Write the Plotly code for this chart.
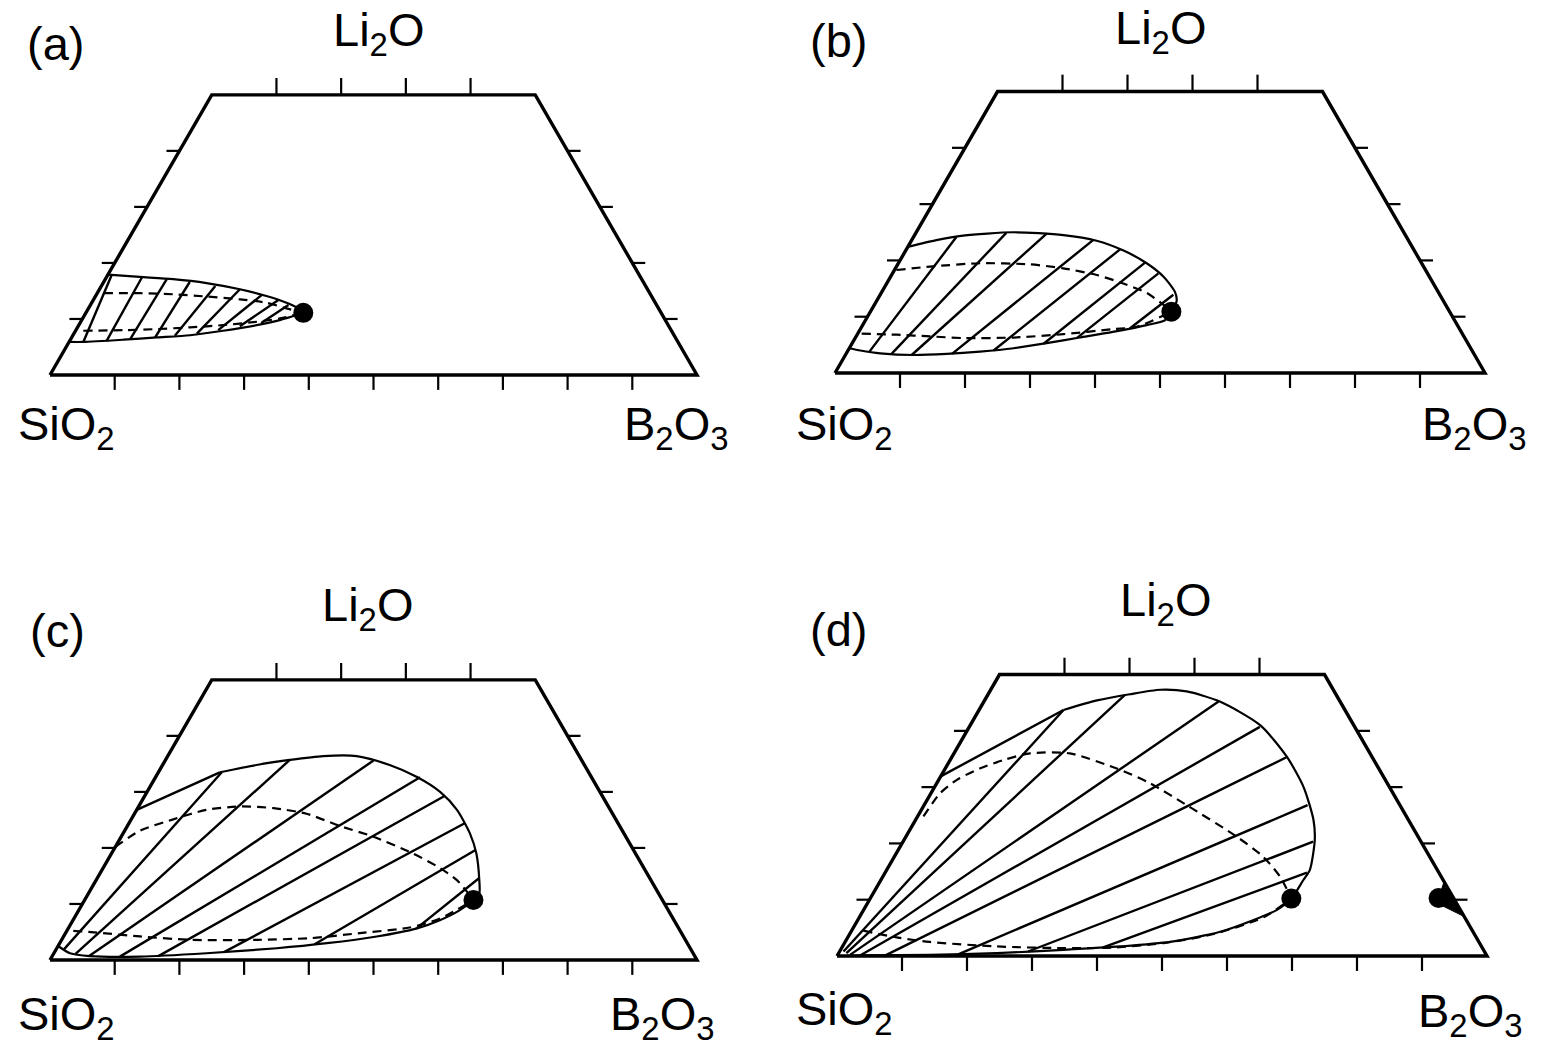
import numpy as np
import plotly.graph_objects as go

# ---------------- data: compositions in mol % (B2O3 = b, Li2O = l) ----------------
# Panel (a)
A_BIN_B = [0, 5.1, 10.5, 16.0, 21.7, 26.4, 30.1, 32.4, 33.6, 32.8, 30.6, 27.5, 22.8, 18.1, 13.2, 8.2, 2.2, 0]
A_BIN_L = [17.9, 17.5, 17.1, 16.4, 15.3, 14.1, 12.9, 11.9, 11.1, 10.7, 9.8, 8.9, 7.9, 7.1, 6.7, 6.3, 5.9, 5.9]
A_SPT_B = [1.0, 6.6, 11.9, 17.2, 22.6, 27.0, 30.6, 33.6]
A_SPT_L = [14.6, 14.6, 14.4, 14.0, 13.5, 12.9, 11.9, 11.1]
A_SPB_B = [1.2, 7.3, 12.4, 17.4, 22.3, 27.2, 30.5, 33.6]
A_SPB_L = [7.9, 8.0, 8.2, 8.5, 8.9, 9.5, 10.1, 11.1]
A_TIE_B1 = [2.2, 5.7, 9.2, 12.9, 15.8, 19.0, 22.0, 25.0, 28.0]
A_TIE_L1 = [5.9, 6.1, 6.4, 6.7, 7.0, 7.4, 8.0, 8.7, 9.3]
A_TIE_B2 = [0.6, 5.5, 9.5, 13.3, 17.6, 21.7, 25.6, 28.6, 30.6]
A_TIE_L2 = [17.9, 17.4, 17.1, 16.6, 15.9, 15.3, 14.3, 13.4, 12.5]
A_CRIT = ([33.6], [11.1])

# Panel (b)
B_BIN_B = [0, 3.8, 7.5, 14.9, 22.9, 28.5, 33.4, 38.2, 42.0, 45.1, 46.2, 46.3, 46.1, 43.7, 39.1,
           34.5, 29.9, 25.3, 20.4, 15.5, 10.5, 5.2, 1.9, 0]
B_BIN_L = [22.4, 23.6, 24.4, 25.0, 24.5, 23.5, 21.8, 19.5, 17.1, 14.4, 12.7, 10.9, 9.4, 8.5, 7.3,
           6.3, 5.3, 4.4, 3.8, 3.4, 3.2, 3.5, 4.0, 4.4]
B_SPT_B = [0.3, 5.2, 12.6, 20.3, 25.8, 31.6, 36.4, 40.9, 44.5, 46.3]
B_SPT_L = [18.3, 18.9, 19.5, 19.3, 18.6, 17.4, 15.9, 14.2, 12.1, 10.9]
B_SPB_B = [0.6, 6.1, 11.4, 16.7, 24.3, 31.7, 38.9, 42.3, 46.3]
B_SPB_L = [7.0, 6.8, 6.5, 6.2, 6.3, 6.9, 7.8, 8.2, 10.9]
B_TIE_B1 = [3.4, 7.0, 10.2, 16.3, 22.4, 29.5, 34.1, 41.4]
B_TIE_L1 = [3.8, 3.4, 3.2, 3.4, 4.0, 5.2, 6.2, 7.9]
B_TIE_B2 = [6.6, 13.9, 20.2, 27.9, 32.9, 37.9, 40.9, 45.1]
B_TIE_L2 = [24.2, 24.9, 24.8, 23.6, 22.0, 19.6, 17.7, 13.9]
B_CRIT = ([46.3], [10.9])

# Panel (c)
C_BIN_B = [9.5, 14.5, 19.2, 24.0, 29.2, 35.1, 40.3, 45.3, 49.5, 53.6, 56.4, 59.2, 60.4, 60.1, 58.9,
           56.7, 53.8, 48.4, 41.3, 34.0, 23.6, 13.6, 5.8, 2.5, 0]
C_BIN_L = [33.5, 34.8, 35.7, 36.4, 36.4, 34.8, 32.7, 30.0, 26.8, 22.6, 19.0, 14.3, 11.9, 10.7, 8.9,
           7.1, 5.6, 4.2, 3.0, 2.1, 1.2, 0.6, 0.7, 1.2, 2.5]
C_SPT_B = [0, 2.4, 6.5, 10.8, 15.7, 21.0, 26.6, 32.9, 39.0, 46.6, 52.1, 55.7, 58.7, 60.1]
C_SPT_L = [20.2, 23.1, 25.1, 26.8, 27.4, 27.1, 26.1, 23.9, 22.0, 19.0, 16.4, 14.3, 11.9, 10.7]
C_SPB_B = [1.0, 4.8, 11.8, 19.9, 30.2, 38.3, 45.5, 52.7, 56.6, 60.1]
C_SPB_L = [5.2, 4.9, 4.2, 3.6, 3.6, 3.9, 4.8, 5.8, 7.4, 10.7]
C_TIE_B1 = [0, 1.2, 3.4, 5.7, 10.5, 16.4, 26.2, 39.5, 53.8]
C_TIE_L1 = [26.8, 1.9, 1.1, 0.7, 0.6, 0.7, 1.4, 2.8, 5.6]
C_TIE_B2 = [9.5, 9.8, 19.2, 32.2, 40.9, 46.4, 51.9, 55.9, 59.0]
C_TIE_L2 = [33.5, 33.5, 35.7, 35.6, 32.6, 29.3, 24.4, 19.6, 14.6]
C_CRIT = ([60.1], [10.7])

# Panel (d)
D_BIN_B = [13.0, 17.3, 21.8, 26.1, 30.3, 36.3, 44.6, 51.5, 56.7, 61.2, 63.2, 65.1, 65.0, 64.8,
           63.6, 60.9, 56.8, 50.0, 42.7, 34.3, 24.3, 14.2, 4.0, 1.0]
D_BIN_L = [43.7, 45.4, 46.5, 47.3, 47.0, 45.2, 41.0, 35.4, 30.1, 24.2, 20.6, 15.3, 13.5, 10.2,
           8.2, 6.4, 4.3, 2.5, 1.7, 1.1, 0.5, 0.2, 0.1, 0.0]
D_SPT_B = [0.9, 1.4, 2.8, 5.3, 8.2, 11.7, 17.8, 26.4, 32.8, 40.4, 50.9, 56.8, 61.1, 64.8]
D_SPT_L = [24.8, 28.9, 31.3, 33.3, 34.8, 36.0, 36.0, 33.3, 30.7, 26.8, 21.2, 17.6, 14.1, 10.2]
D_SPB_B = [1.8, 7.5, 13.0, 23.7, 34.1, 41.7, 49.1, 56.0, 62.2, 64.8]
D_SPB_L = [4.5, 3.3, 2.5, 1.7, 1.4, 1.5, 2.3, 3.9, 6.9, 10.2]
D_TIE_B1 = [0, 0.6, 1.2, 1.9, 3.5, 7.4, 18.5, 29.0, 40.1]
D_TIE_L1 = [31.9, 0.8, 0.5, 0.2, 0.1, 0.1, 0.3, 0.8, 1.5]
D_TIE_B2 = [13.0, 13.0, 21.1, 36.1, 44.7, 51.5, 59.0, 63.1, 64.9]
D_TIE_L2 = [43.7, 43.7, 46.4, 45.2, 40.7, 35.3, 26.8, 20.3, 14.8]
D_CRIT = ([64.8, 87.4], [10.2, 10.3])
D_WEDGE_B = [86.8, 87.6, 93.0, 86.8]
D_WEDGE_L = [13.2, 9.4, 7.0, 13.2]

# frame and ticks (mol %)
FRAME_B = [0, 100, 50, 0, 0]
FRAME_L = [0, 0, 50, 50, 0]
BASE_TICKS = [10, 20, 30, 40, 50, 60, 70, 80, 90]
SIDE_TICKS = [10, 20, 30, 40]
TOP_TICKS = [10, 20, 30, 40]

PANEL_LETTERS = ["(a)", "(b)", "(c)", "(d)"]
APEX = "Li<sub>2</sub>O"
LEFT = "SiO<sub>2</sub>"
RIGHT = "B<sub>2</sub>O<sub>3</sub>"

PANELS = [
    dict(bin=(A_BIN_B, A_BIN_L), spt=(A_SPT_B, A_SPT_L), spb=(A_SPB_B, A_SPB_L),
         tie=(A_TIE_B1, A_TIE_L1, A_TIE_B2, A_TIE_L2), crit=A_CRIT, wedge=None),
    dict(bin=(B_BIN_B, B_BIN_L), spt=(B_SPT_B, B_SPT_L), spb=(B_SPB_B, B_SPB_L),
         tie=(B_TIE_B1, B_TIE_L1, B_TIE_B2, B_TIE_L2), crit=B_CRIT, wedge=None),
    dict(bin=(C_BIN_B, C_BIN_L), spt=(C_SPT_B, C_SPT_L), spb=(C_SPB_B, C_SPB_L),
         tie=(C_TIE_B1, C_TIE_L1, C_TIE_B2, C_TIE_L2), crit=C_CRIT, wedge=None),
    dict(bin=(D_BIN_B, D_BIN_L), spt=(D_SPT_B, D_SPT_L), spb=(D_SPB_B, D_SPB_L),
         tie=(D_TIE_B1, D_TIE_L1, D_TIE_B2, D_TIE_L2), crit=D_CRIT, wedge=(D_WEDGE_B, D_WEDGE_L)),
]

# ---------------- layout geometry (per panel axis ranges & domains) ----------------
LAYOUT = [
    dict(xr=[-0.07728, 1.12056], yr=[-0.22952, 0.57960], xd=[0, 0.5], yd=[0.5, 1.0],
         lab=[(0.008, 0.512), (0.507, 0.528), (0.025, -0.080), (0.969, -0.080)]),
    dict(xr=[-0.09231, 1.10000], yr=[-0.23154, 0.57385], xd=[0.5, 1.0], yd=[0.5, 1.0],
         lab=[(0.006, 0.512), (0.500, 0.526), (0.014, -0.083), (0.984, -0.083)]),
    dict(xr=[-0.07728, 1.12056], yr=[-0.13447, 0.67465], xd=[0, 0.5], yd=[0.0, 0.5],
         lab=[(0.011, 0.510), (0.490, 0.544), (0.025, -0.088), (0.946, -0.088)]),
    dict(xr=[-0.09538, 1.09692], yr=[-0.14000, 0.66538], xd=[0.5, 1.0], yd=[0.0, 0.5],
         lab=[(0.002, 0.502), (0.505, 0.543), (0.012, -0.086), (0.974, -0.089)]),
]

H = np.sqrt(3) / 2


def tern(b, l):
    b = np.asarray(b, float) / 100.0
    l = np.asarray(l, float) / 100.0
    return b + l / 2.0, l * H


FONT = "Liberation Sans, Arial, Helvetica, sans-serif"
fig = go.Figure()
annotations = []

for i, (p, g) in enumerate(zip(PANELS, LAYOUT)):
    xa = "x" if i == 0 else f"x{i+1}"
    ya = "y" if i == 0 else f"y{i+1}"
    common = dict(xaxis=xa, yaxis=ya, hoverinfo="skip", showlegend=False)

    # tie lines
    tx, ty = [], []
    for b1, l1, b2, l2 in zip(*p["tie"]):
        x, y = tern([b1, b2], [l1, l2])
        tx += list(x) + [None]
        ty += list(y) + [None]
    fig.add_trace(go.Scatter(x=tx, y=ty, mode="lines", line=dict(color="black", width=2.4), **common))

    # spinodal (dashed)
    for key in ("spt", "spb"):
        x, y = tern(*p[key])
        fig.add_trace(go.Scatter(x=x, y=y, mode="lines",
                                 line=dict(color="black", width=2.2, dash="9px,6px", shape="spline", smoothing=0.7),
                                 **common))

    # binodal
    x, y = tern(*p["bin"])
    fig.add_trace(go.Scatter(x=x, y=y, mode="lines",
                             line=dict(color="black", width=2.2, shape="spline", smoothing=0.7), **common))

    # wedge (small gap on B2O3-Li2O side)
    if p["wedge"] is not None:
        x, y = tern(*p["wedge"])
        fig.add_trace(go.Scatter(x=x, y=y, mode="lines", fill="toself", fillcolor="black",
                                 line=dict(color="black", width=1), **common))

    # frame
    x, y = tern(FRAME_B, FRAME_L)
    fig.add_trace(go.Scatter(x=x, y=y, mode="lines", line=dict(color="black", width=3.4), **common))

    # ticks
    kx, ky = [], []
    for t in BASE_TICKS:
        x0, y0 = tern([t], [0])
        kx += [x0[0], x0[0], None]; ky += [y0[0], y0[0] - 0.023, None]
    for t in SIDE_TICKS:
        x0, y0 = tern([0], [t])
        kx += [x0[0], x0[0] - 0.02, None]; ky += [y0[0], y0[0], None]
        x1, y1 = tern([100 - t], [t])
        kx += [x1[0], x1[0] + 0.02, None]; ky += [y1[0], y1[0], None]
    for t in TOP_TICKS:
        x0, y0 = tern([t], [50])
        kx += [x0[0], x0[0], None]; ky += [y0[0], y0[0] + 0.026, None]
    fig.add_trace(go.Scatter(x=kx, y=ky, mode="lines", line=dict(color="black", width=2.2), **common))

    # critical points
    x, y = tern(*p["crit"])
    fig.add_trace(go.Scatter(x=x, y=y, mode="markers", marker=dict(color="black", size=20), **common))

    # labels
    texts = [PANEL_LETTERS[i], APEX, LEFT, RIGHT]
    for (lx, ly), txt in zip(g["lab"], texts):
        annotations.append(dict(x=lx, y=ly, xref=xa, yref=ya, text=txt, showarrow=False,
                                xanchor="center", yanchor="middle",
                                font=dict(family=FONT, size=47, color="black")))

    axkw = dict(visible=False, showgrid=False, zeroline=False, fixedrange=True)
    xname = "xaxis" if i == 0 else f"xaxis{i+1}"
    yname = "yaxis" if i == 0 else f"yaxis{i+1}"
    fig.update_layout(**{xname: dict(range=g["xr"], domain=g["xd"], anchor=ya, **axkw),
                         yname: dict(range=g["yr"], domain=g["yd"], anchor=xa, **axkw)})

fig.update_layout(width=1550, height=1047, margin=dict(l=0, r=0, t=0, b=0),
                  paper_bgcolor="white", plot_bgcolor="white", showlegend=False,
                  annotations=annotations, font=dict(family=FONT))

fig.write_html("out.html", config={"displayModeBar": False},
               post_script="document.body.style.margin='0';")
